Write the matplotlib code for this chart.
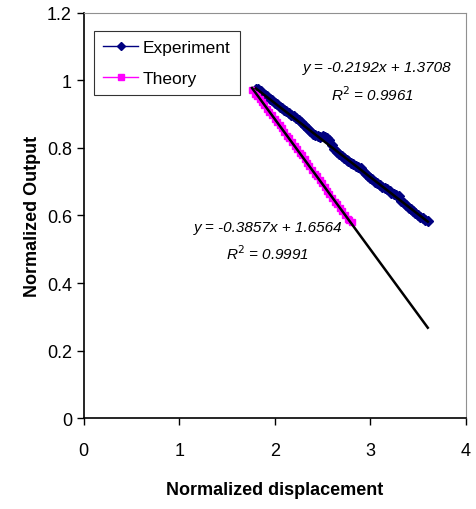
import matplotlib

matplotlib.use("Agg")
import matplotlib.pyplot as plt
import numpy as np

plt.rcParams["font.family"] = ["Liberation Sans", "DejaVu Sans"]

# Experiment (navy diamonds)
exp_x = [1.80, 1.82, 1.85, 1.87, 1.90, 1.92, 1.95, 1.97, 2.00, 2.02, 2.05, 2.07,
         2.10, 2.12, 2.15, 2.17, 2.20, 2.22, 2.25, 2.27, 2.30, 2.32, 2.35, 2.37,
         2.40, 2.42, 2.45, 2.47, 2.50, 2.52, 2.55, 2.57, 2.60, 2.62, 2.65, 2.67,
         2.70, 2.72, 2.75, 2.77, 2.80, 2.82, 2.85, 2.87, 2.90, 2.92, 2.95, 2.97,
         3.00, 3.02, 3.05, 3.07, 3.10, 3.12, 3.15, 3.17, 3.20, 3.22, 3.25, 3.27,
         3.30, 3.32, 3.35, 3.37, 3.40, 3.42, 3.45, 3.47, 3.50, 3.52, 3.55, 3.57,
         3.60]
exp_y = [0.975, 0.973, 0.968, 0.964, 0.958, 0.953, 0.946, 0.941, 0.934, 0.929,
         0.922, 0.919, 0.912, 0.909, 0.903, 0.898, 0.893, 0.889, 0.882, 0.877,
         0.869, 0.864, 0.855, 0.850, 0.842, 0.838, 0.835, 0.832, 0.834, 0.833,
         0.829, 0.822, 0.808, 0.797, 0.788, 0.783, 0.776, 0.771, 0.765, 0.761,
         0.755, 0.751, 0.746, 0.744, 0.740, 0.732, 0.724, 0.718, 0.711, 0.707,
         0.700, 0.696, 0.690, 0.685, 0.680, 0.677, 0.672, 0.668, 0.664, 0.662,
         0.658, 0.644, 0.636, 0.631, 0.623, 0.618, 0.612, 0.607, 0.601, 0.597,
         0.592, 0.588, 0.585]

# Theory (magenta squares)
th_x = [1.76, 1.79, 1.81, 1.84, 1.86, 1.89, 1.92, 1.94, 1.97, 2.00, 2.02, 2.05,
        2.07, 2.10, 2.13, 2.15, 2.18, 2.21, 2.23, 2.26, 2.28, 2.31, 2.34, 2.36,
        2.39, 2.42, 2.44, 2.47, 2.49, 2.52, 2.55, 2.57, 2.60, 2.63, 2.65, 2.68,
        2.70, 2.73, 2.76, 2.78, 2.81]
th_y = [0.970, 0.961, 0.953, 0.944, 0.936, 0.926, 0.915, 0.907, 0.897, 0.885,
        0.878, 0.867, 0.859, 0.848, 0.836, 0.829, 0.817, 0.806, 0.798, 0.786,
        0.778, 0.767, 0.755, 0.747, 0.736, 0.724, 0.716, 0.704, 0.697, 0.685,
        0.673, 0.665, 0.653, 0.641, 0.633, 0.621, 0.613, 0.601, 0.590, 0.586,
        0.580]

# linear trendlines (slope, intercept) as printed on the chart
exp_fit = (-0.2192, 1.3708)
th_fit = (-0.3857, 1.6564)
exp_r2 = 0.9961
th_r2 = 0.9991
trend_end = 3.6

fig = plt.figure(figsize=(4.76, 5.10), dpi=100)
ax = fig.add_axes([0.176, 0.178, 0.803, 0.795])

ax.plot(exp_x, exp_y, "-D", color="#000080", ms=5, lw=1, label="Experiment")
ax.plot(th_x, th_y, "-s", color="#FF00FF", ms=5, lw=1, label="Theory")

# trendlines
xe = np.array([exp_x[0], trend_end])
ax.plot(xe, exp_fit[0] * xe + exp_fit[1], color="black", lw=1.8)
xt = np.array([th_x[0], trend_end])
ax.plot(xt, th_fit[0] * xt + th_fit[1], color="black", lw=1.8)

eq_kw = dict(style="italic", fontsize=11, ha="center", va="center")
ax.text(3.07, 1.04, f"y = {exp_fit[0]}x + {exp_fit[1]:.4f}", **eq_kw)
ax.text(3.02, 0.96, f"R$^2$ = {exp_r2}", **eq_kw)
ax.text(1.93, 0.566, f"y = {th_fit[0]}x + {th_fit[1]:.4f}", **eq_kw)
ax.text(1.92, 0.49, f"R$^2$ = {th_r2}", **eq_kw)

ax.set_xlim(0, 4)
ax.set_ylim(0, 1.2)
ax.set_xticks([0, 1, 2, 3, 4])
ax.set_yticks([0, 0.2, 0.4, 0.6, 0.8, 1.0, 1.2])
ax.set_yticklabels(["0", "0.2", "0.4", "0.6", "0.8", "1", "1.2"])
ax.tick_params(labelsize=13, direction="out", length=5, width=1)
ax.tick_params(axis="x", pad=12)
for s in ["top", "right"]:
    ax.spines[s].set_color("#909090")
for s in ["left", "bottom"]:
    ax.spines[s].set_color("black")
    ax.spines[s].set_linewidth(1.2)

ax.set_xlabel("Normalized displacement", fontsize=13, fontweight="bold", labelpad=16)
ax.set_ylabel("Normalized Output", fontsize=13, fontweight="bold", labelpad=4)

leg = ax.legend(loc="upper left", bbox_to_anchor=(0.028, 0.955), fontsize=12.5,
                frameon=True, fancybox=False, edgecolor="black", borderpad=0.5,
                handlelength=2.0, handletextpad=0.3, labelspacing=0.95,
                borderaxespad=0, markerscale=0.9)
leg.get_frame().set_linewidth(0.8)

fig.savefig("out.png", dpi=100)
